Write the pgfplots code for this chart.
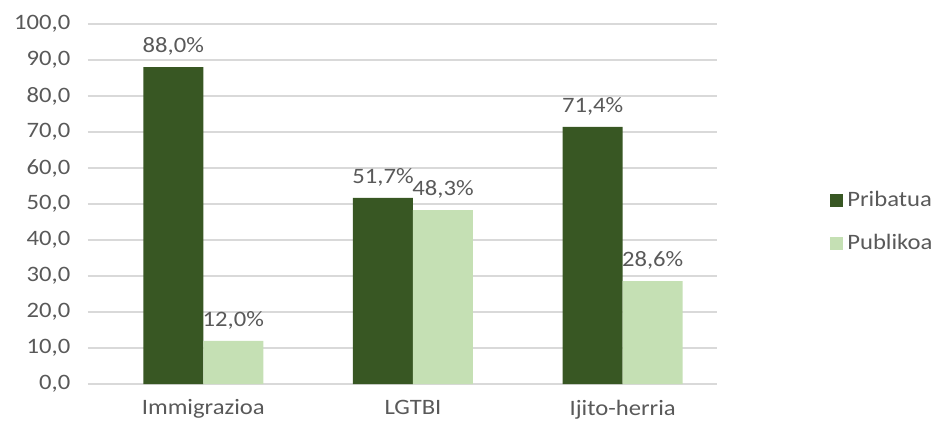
\documentclass[border=0pt]{standalone}
\usepackage{pgfplots}
\pgfplotsset{compat=1.18}
\usepackage{fontspec}
\setmainfont{Carlito}[FakeStretch=1.12]
\definecolor{dgreen}{HTML}{385723}
\definecolor{lgreen}{HTML}{C5E0B4}
\definecolor{txtgray}{HTML}{595959}
\definecolor{gridgray}{HTML}{D9D9D9}
\begin{document}
\fontsize{11}{13}\selectfont
\begin{tikzpicture}
\useasboundingbox (-44pt,-23pt) rectangle (426pt,192pt);
\begin{axis}[
    scale only axis,
    width=314.5pt, height=180pt,
    ybar=0pt, bar width=30pt,
    xmin=-0.55, xmax=2.45,
    ymin=0, ymax=100,
    xtick={0,1,2},
    xticklabels={Immigrazioa, LGTBI, Ijito-herria},
    ytick={0,10,...,100},
    ymajorgrids=true,
    grid style={gridgray, line width=0.8pt},
    axis line style={draw=none},
    major tick length=0pt,
    tick label style={font=\fontsize{11}{13}\selectfont, text=txtgray},
    yticklabel style={xshift=-5pt},
    xticklabel style={yshift=-4pt},
    /pgf/number format/assume math mode=true,
    yticklabel={\pgfmathprintnumber[fixed, fixed zerofill, precision=1, use comma]{\tick}},
    nodes near coords={\pgfmathprintnumber[fixed, fixed zerofill, precision=1, use comma]{\pgfplotspointmeta}\%},
    nodes near coords style={font=\fontsize{11}{13}\selectfont, text=txtgray, yshift=2pt},
    legend cell align=left,
    legend style={at={(1.17,0.45)}, anchor=west, draw=none, fill=none,
        font=\fontsize{11}{13}\selectfont, text=txtgray, row sep=8pt},
    legend image code/.code={\fill[#1] (0pt,-3.2pt) rectangle (6.5pt,3.2pt);},
]
\addplot[fill=dgreen, draw=none] coordinates {(0,88.0) (1,51.7) (2,71.4)};
\addplot[fill=lgreen, draw=none] coordinates {(0,12.0) (1,48.3) (2,28.6)};
\legend{Pribatua, Publikoa}
\end{axis}
\end{tikzpicture}
\end{document}
